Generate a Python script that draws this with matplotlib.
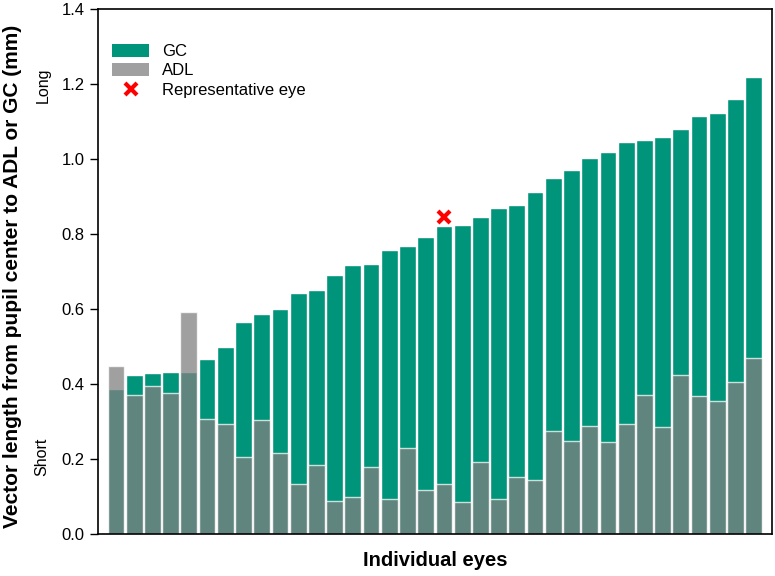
"""Comprimento vetorial do centro pupilar até ADL ou GC por olho."""

import matplotlib
matplotlib.use("Agg")
import matplotlib.pyplot as plt
import numpy as np
from matplotlib.lines import Line2D
from matplotlib.patches import Patch

plt.rcParams["font.family"] = ["Liberation Sans", "DejaVu Sans"]

# ===========================
# Dados
# ===========================

gc = [0.387, 0.425, 0.430, 0.432, 0.431, 0.467, 0.499, 0.566, 0.587, 0.599,
      0.642, 0.652, 0.690, 0.717, 0.719, 0.757, 0.768, 0.793, 0.822, 0.824,
      0.846, 0.869, 0.877, 0.912, 0.951, 0.972, 1.004, 1.020, 1.045, 1.050,
      1.059, 1.080, 1.114, 1.123, 1.160, 1.218]

adl = [0.447, 0.371, 0.396, 0.376, 0.593, 0.307, 0.294, 0.204, 0.303, 0.216,
       0.132, 0.184, 0.088, 0.099, 0.179, 0.093, 0.229, 0.116, 0.133, 0.086,
       0.193, 0.094, 0.152, 0.145, 0.276, 0.248, 0.289, 0.246, 0.293, 0.371,
       0.286, 0.424, 0.369, 0.354, 0.405, 0.469]

olho_representativo = 18
marcador_y = 0.846

COR_GC = "#00947a"
COR_ADL = "#808080"

x = np.arange(len(gc))

fig = plt.figure(figsize=(7.75, 5.76), dpi=100)
ax = fig.add_axes([0.1265, 0.073, 0.8695, 0.911])

ax.bar(x, gc, width=0.92, color=COR_GC, edgecolor="white", linewidth=1)
ax.bar(x, adl, width=0.92, color=COR_ADL, alpha=0.745, edgecolor="white", linewidth=1)

ax.plot(olho_representativo, marcador_y, marker="x", color="red",
        markersize=9, markeredgewidth=3, linestyle="none")

ax.set_xlim(-0.98, 36.0)
ax.set_ylim(0, 1.4)
ax.set_yticks(np.arange(0, 1.41, 0.2))
ax.set_yticklabels([f"{v:.1f}" for v in np.arange(0, 1.41, 0.2)], fontsize=12)
ax.set_xticks([])
ax.tick_params(axis="y", direction="out", length=6, width=1)

for spine in ax.spines.values():
    spine.set_linewidth(1.2)

ax.set_xlabel("Individual eyes", fontsize=14.5, fontweight="bold", labelpad=12)
ax.set_ylabel("Vector length from pupil center to ADL or GC (mm)",
              fontsize=15, fontweight="bold")
ax.yaxis.set_label_coords(-0.113, 0.49)

fig.text(0.056, 0.852, "Long", rotation=90, fontsize=11.5, ha="center", va="center")
fig.text(0.054, 0.207, "Short", rotation=90, fontsize=11.5, ha="center", va="center")

handles = [
    Patch(facecolor=COR_GC, label="GC"),
    Patch(facecolor=COR_ADL, alpha=0.745, label="ADL"),
    Line2D([], [], marker="x", color="red", markersize=9, markeredgewidth=3,
           linestyle="none", label="Representative eye"),
]
ax.legend(handles=handles, loc="upper left", frameon=False, fontsize=12,
          handlelength=2.2, handleheight=0.8, labelspacing=0.25,
          borderaxespad=0.3, bbox_to_anchor=(0.004, 0.956))

fig.savefig("out.png", dpi=100)
plt.close(fig)
